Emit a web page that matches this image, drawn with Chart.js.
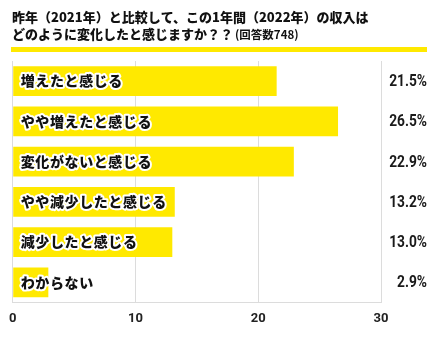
<!DOCTYPE html>
<html>
<head>
<meta charset="utf-8">
<script src="https://cdn.jsdelivr.net/npm/chart.js@4"></script>
<style>
  html, body { margin: 0; padding: 0; background: #fff; }
  #wrap { width: 436px; height: 345px; }
</style>
</head>
<body>
<div id="wrap"><canvas id="chart" width="436" height="345"></canvas></div>
<script>
// 昨年と比べた収入の変化（回答数748）
const TITLE_1 = "昨年（2021年）と比較して、この1年間（2022年）の収入は";
const TITLE_2 = "どのように変化したと感じますか？？";
const TITLE_NOTE = "(回答数748)";

const categories = ["増えたと感じる", "やや増えたと感じる", "変化がないと感じる", "やや減少したと感じる", "減少したと感じる", "わからない"];
const shares = [21.5, 26.5, 22.9, 13.2, 13.0, 2.9];
const xTicks = [0, 10, 20, 30];

const YELLOW = "#ffe900";
const JP = "'Noto Sans CJK JP', 'Noto Sans', sans-serif";
const NUM = "'Roboto', sans-serif";

// title + yellow rule across the top
const titlePlugin = {
  id: "titleBlock",
  afterDraw(chart) {
    const ctx = chart.ctx;
    ctx.save();
    ctx.fillStyle = "#111";
    ctx.textBaseline = "middle";
    ctx.textAlign = "left";
    ctx.font = "900 13px " + JP;
    ctx.fillText(TITLE_1, 12, 17);
    ctx.fillText(TITLE_2, 12, 34);
    const w = ctx.measureText(TITLE_2).width;
    ctx.font = "bold 11.5px " + JP;
    ctx.fillText(TITLE_NOTE, 12 + w + 2, 35);
    ctx.fillStyle = YELLOW;
    ctx.fillRect(11, 47, 416, 5);
    ctx.restore();
  }
};

// category names inside the bars, percentages on the right
const labelPlugin = {
  id: "barLabels",
  afterDatasetsDraw(chart) {
    const ctx = chart.ctx;
    const bars = chart.getDatasetMeta(0).data;
    ctx.save();
    ctx.textBaseline = "middle";
    bars.forEach((bar, i) => {
      ctx.font = "900 14px " + JP;
      ctx.letterSpacing = "0.6px";
      ctx.textAlign = "left";
      ctx.lineJoin = "round";
      ctx.lineWidth = 4;
      ctx.strokeStyle = "#fff";
      ctx.strokeText(categories[i], chart.chartArea.left + 8, bar.y);
      ctx.fillStyle = "#111";
      ctx.fillText(categories[i], chart.chartArea.left + 8, bar.y);

      // narrow bold numbers, squeezed a bit
      ctx.letterSpacing = "0px";
      ctx.font = "bold 16px " + NUM;
      ctx.textAlign = "right";
      ctx.fillStyle = "#1a1a1a";
      ctx.save();
      ctx.translate(427, bar.y + 1);
      ctx.scale(0.86, 1);
      ctx.fillText(shares[i].toFixed(1) + "%", 0, 0);
      ctx.restore();
    });
    ctx.restore();
  }
};

new Chart(document.getElementById("chart"), {
  type: "bar",
  data: {
    labels: categories,
    datasets: [{
      data: shares,
      backgroundColor: YELLOW,
      borderWidth: 0,
      categoryPercentage: 0.74,
      barPercentage: 1
    }]
  },
  options: {
    indexAxis: "y",
    responsive: false,
    animation: false,
    layout: { padding: { left: 11, right: 55, top: 61, bottom: 9 } },
    plugins: { legend: { display: false }, tooltip: { enabled: false } },
    scales: {
      y: { display: false },
      x: {
        min: 0, max: 30,
        afterBuildTicks: s => { s.ticks = xTicks.map(v => ({ value: v })); },
        grid: { color: "#dcdcdc", lineWidth: 1, drawTicks: false },
        border: { color: "#dcdcdc" },
        ticks: { padding: 9, color: "#222", font: { family: NUM, size: 13, weight: "bold" } }
      }
    }
  },
  plugins: [titlePlugin, labelPlugin]
});
</script>
</body>
</html>
